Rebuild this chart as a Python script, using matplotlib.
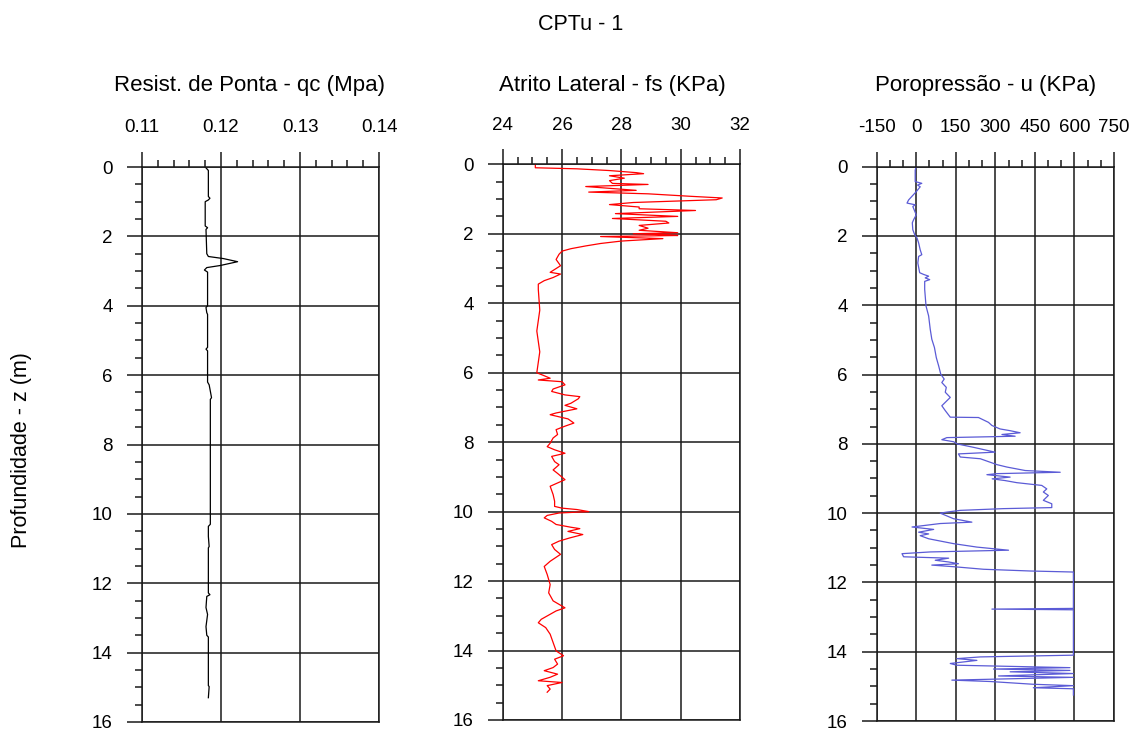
import matplotlib
matplotlib.use("Agg")
import matplotlib.pyplot as plt
from matplotlib.ticker import FixedLocator, MultipleLocator

plt.rcParams["font.family"] = ["Liberation Sans", "DejaVu Sans"]

# Resistencia de ponta qc (MPa) x profundidade (m)
qc_depth = [0.0, 0.1, 0.85, 0.9, 0.95, 1.0, 1.7, 1.75, 1.8, 2.5, 2.58, 2.64, 2.73, 2.84,
            2.9, 2.97, 3.03, 4.0, 4.05, 4.2, 4.25, 5.2, 5.25, 5.3, 6.2, 6.28, 6.4, 6.65,
            6.7, 10.3, 10.36, 10.65, 10.94, 10.98, 12.28, 12.33, 12.38, 12.7, 12.9,
            13.25, 13.5, 13.55, 14.95, 14.98, 15.3]
qc_value = [0.1180, 0.1184, 0.1184, 0.1186, 0.1184, 0.1180, 0.1180, 0.1183, 0.1181, 0.1182,
            0.1184, 0.1203, 0.1221, 0.1199, 0.1182, 0.1179, 0.1183, 0.1183, 0.1181, 0.1182,
            0.1183, 0.1183, 0.1181, 0.1183, 0.1183, 0.1185, 0.1186, 0.1188, 0.11865,
            0.11865, 0.1184, 0.1184, 0.1185, 0.1184, 0.1184, 0.1186, 0.1182, 0.1181,
            0.1183, 0.1181, 0.1182, 0.1184, 0.1184, 0.1185, 0.1184]

# Atrito lateral fs (kPa)
fs_depth = [0.0, 0.1, 0.13, 0.18, 0.24, 0.27, 0.33, 0.4, 0.47, 0.55, 0.58, 0.64, 0.75,
            0.8, 0.85, 0.92, 0.97, 1.02, 1.1, 1.16, 1.23, 1.28, 1.33, 1.42, 1.5, 1.56,
            1.64, 1.69, 1.76, 1.84, 1.9, 1.97, 2.0, 2.03, 2.05, 2.08, 2.14, 2.21, 2.28,
            2.35, 2.43, 2.5, 2.59, 2.74, 2.92, 3.11, 3.16, 3.26, 3.35, 3.45, 3.6, 4.2,
            4.8, 5.4, 6.0, 6.02, 6.07, 6.16, 6.21, 6.26, 6.35, 6.47, 6.54, 6.64, 6.69,
            6.75, 6.88, 6.94, 7.04, 7.16, 7.21, 7.33, 7.45, 7.54, 7.64, 7.78, 7.88, 8.03,
            8.13, 8.22, 8.32, 8.41, 8.56, 8.65, 8.8, 8.9, 9.08, 9.27, 9.51, 9.7, 9.85,
            9.9, 9.94, 10.0, 10.04, 10.11, 10.18, 10.28, 10.37, 10.45, 10.49, 10.57,
            10.66, 10.76, 10.85, 10.95, 11.09, 11.23, 11.43, 11.58, 11.81, 12.1, 12.34,
            12.57, 12.77, 12.86, 13.1, 13.2, 13.34, 13.53, 13.77, 14.01, 14.15, 14.25,
            14.39, 14.49, 14.58, 14.68, 14.77, 14.87, 14.92, 15.01, 15.11, 15.2]
fs_value = [25.1, 25.1, 26.5, 27.6, 28.5, 28.75, 27.6, 28.1, 27.6, 27.7, 28.9, 26.8, 28.5,
            26.9, 28.9, 30.3, 31.4, 31.2, 28.4, 27.6, 28.6, 28.6, 30.5, 27.8, 29.9, 27.7,
            29.5, 29.6, 28.6, 28.9, 28.6, 29.9, 28.4, 29.6, 29.9, 27.3, 29.4, 28.0, 27.3,
            26.8, 26.3, 26.0, 25.9, 25.8, 25.95, 25.6, 25.95, 25.7, 25.4, 25.2, 25.2,
            25.25, 25.15, 25.25, 25.15, 25.2, 25.35, 25.6, 25.2, 26.0, 26.1, 25.7, 25.65,
            26.1, 26.6, 26.55, 26.3, 26.1, 26.5, 25.8, 25.6, 26.2, 26.4, 26.1, 25.8,
            25.85, 25.7, 25.6, 25.5, 25.75, 26.1, 25.65, 25.75, 25.9, 25.7, 25.85, 26.1,
            25.6, 25.7, 25.75, 25.75, 26.0, 26.5, 26.9, 25.9, 25.5, 25.4, 25.65, 25.8,
            26.3, 26.6, 26.2, 26.7, 26.25, 25.9, 25.65, 25.75, 25.95, 25.6, 25.4, 25.5,
            25.6, 25.55, 25.7, 26.1, 25.8, 25.3, 25.2, 25.45, 25.6, 25.7, 25.8, 26.05,
            25.75, 25.85, 25.7, 25.4, 25.85, 25.6, 25.2, 26.0, 25.5, 25.6, 25.5]

# Poropressao u (kPa)
u_depth = [0.0, 0.1, 0.43, 0.48, 0.53, 0.58, 0.72, 0.96, 1.05, 1.1, 1.15, 1.39, 1.53, 1.62,
           1.82, 1.96, 2.06, 2.2, 2.4, 2.54, 2.59, 2.78, 3.06, 3.11, 3.16, 3.21, 3.26,
           3.31, 3.54, 4.02, 4.31, 4.69, 4.98, 5.22, 5.51, 5.75, 5.99, 6.13, 6.23, 6.37,
           6.51, 6.66, 6.8, 6.9, 7.04, 7.23, 7.24, 7.33, 7.38, 7.47, 7.57, 7.62, 7.68,
           7.73, 7.78, 7.82, 7.88, 7.94, 8.0, 8.1, 8.24, 8.29, 8.38, 8.43, 8.53, 8.6,
           8.67, 8.77, 8.82, 8.86, 8.89, 8.96, 9.01, 9.06, 9.12, 9.2, 9.3, 9.39, 9.49,
           9.63, 9.73, 9.84, 9.87, 9.92, 9.97, 10.0, 10.06, 10.16, 10.26, 10.3, 10.4,
           10.47, 10.55, 10.6, 10.65, 10.74, 10.88, 10.98, 11.07, 11.12, 11.17, 11.26,
           11.3, 11.36, 11.41, 11.46, 11.5, 11.55, 11.62, 11.67, 11.7, 12.75, 12.77,
           12.79, 14.1, 14.15, 14.2, 14.25, 14.34, 14.39, 14.46, 14.5, 14.54, 14.58,
           14.63, 14.7, 14.74, 14.82, 14.86, 14.94, 14.98, 15.04, 15.07, 15.25]
u_value = [0, -4, -4, 21, 5, 15, 0, -29, -35, -4, -13, 0, -10, -15, -13, -6, 3, 9, 15, 21,
           9, 6, 13, 28, 47, 34, 51, 32, 32, 37, 47, 53, 59, 69, 76, 85, 93, 106, 97, 114,
           110, 129, 110, 97, 110, 129, 236, 261, 274, 287, 318, 356, 394, 325, 375, 116,
           97, 142, 154, 217, 299, 160, 167, 243, 280, 306, 344, 413, 546, 306, 268, 356,
           288, 337, 381, 476, 495, 482, 501, 482, 514, 514, 331, 167, 116, 91, 110, 141,
           211, 91, -16, 66, 9, 47, 15, 47, 141, 230, 350, 53, -54, -48, 123, 72, 123,
           160, 59, 148, 255, 432, 596, 596, 287, 596, 596, 243, 154, 230, 129, 154, 583,
           293, 583, 356, 596, 312, 596, 135, 280, 444, 596, 444, 596, 596]

qc_ticks = [0.11, 0.12, 0.13, 0.14]
qc_labels = ["0.11", "0.12", "0.13", "0.14"]
fs_ticks = [24, 26, 28, 30, 32]
u_ticks = [-150, 0, 150, 300, 450, 600, 750]
depth_ticks = [0, 2, 4, 6, 8, 10, 12, 14, 16]

W, H = 1132, 731
fig = plt.figure(figsize=(W / 100, H / 100), dpi=100)

grid_col = "#1a1a1a"


def make_panel(x0, x1, y0, y1, xlim, ticks, labels, minor, depth, value, color, title, title_x):
    ax = fig.add_axes([x0 / W, 1 - y1 / H, (x1 - x0) / W, (y1 - y0) / H])
    ax.plot(value, depth, color=color, lw=0.9)
    ax.set_xlim(*xlim)
    ax.set_ylim(16, 0)
    ax.xaxis.set_major_locator(FixedLocator(ticks))
    ax.set_xticklabels(labels)
    ax.xaxis.set_minor_locator(MultipleLocator(minor))
    ax.yaxis.set_major_locator(FixedLocator(depth_ticks))
    ax.set_yticklabels([str(d) for d in depth_ticks])
    ax.yaxis.set_minor_locator(MultipleLocator(0.5))
    ax.xaxis.tick_top()
    ax.tick_params(axis="x", which="both", top=True, bottom=False, direction="out",
                   color=grid_col, width=1.1)
    ax.tick_params(axis="y", which="both", left=True, right=False, direction="out",
                   color=grid_col, width=1.1)
    ax.tick_params(axis="x", which="major", length=11, pad=11, labelsize=13.5)
    ax.tick_params(axis="x", which="minor", length=5)
    ax.tick_params(axis="y", which="major", length=11, pad=10, labelsize=13.5)
    ax.tick_params(axis="y", which="minor", length=5)
    ax.grid(True, which="major", color=grid_col, lw=1.1)
    for s in ax.spines.values():
        s.set_color(grid_col)
        s.set_linewidth(1.1)
    fig.text(title_x / W, 1 - 85 / H, title, ha="center", va="center", fontsize=16)
    return ax


make_panel(142, 379, 167, 722, (0.11, 0.14), qc_ticks, qc_labels, 0.002,
           qc_depth, qc_value, "black", "Resist. de Ponta - qc (Mpa)", 249)
make_panel(502.7, 740, 164.3, 720, (24, 32), fs_ticks, [str(t) for t in fs_ticks], 0.5,
           fs_depth, fs_value, "#ff0000", "Atrito Lateral - fs (KPa)", 612)
make_panel(876.7, 1114, 166.7, 721, (-150, 750), u_ticks, [str(t) for t in u_ticks], 50,
           u_depth, u_value, "#5b5bd6", "Poropressão - u (KPa)", 986)

fig.text(581 / W, 1 - 24 / H, "CPTu - 1", ha="center", va="center", fontsize=15.5)
fig.text(22 / W, 1 - 450 / H, "Profundidade - z (m)", ha="center", va="center",
         rotation=90, fontsize=15.5)

fig.savefig("out.png", dpi=100)
